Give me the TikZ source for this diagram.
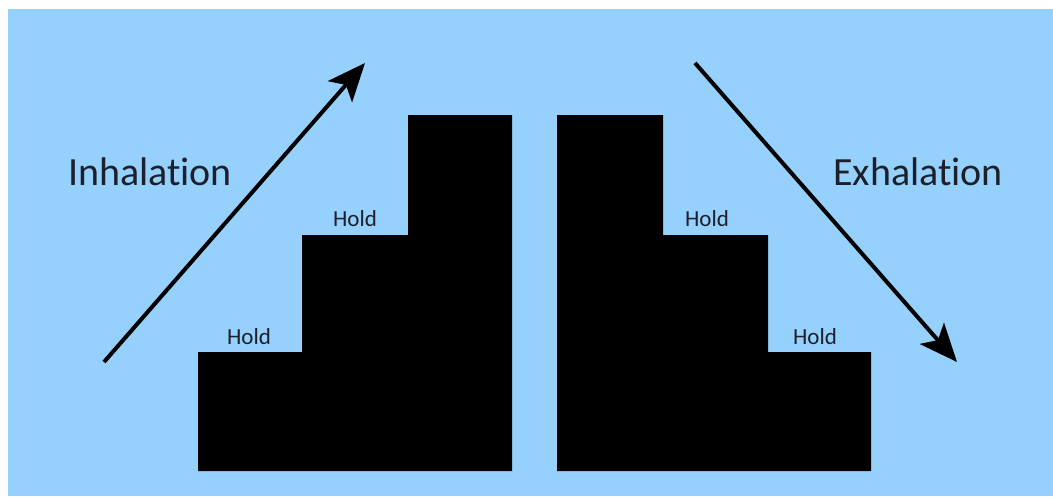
\documentclass[tikz,border=0pt]{standalone}
\usepackage{fontspec}
\setmainfont[RawFeature={-liga;-clig;-calt;-dlig}]{Carlito}
\usepackage{tikz}
\usetikzlibrary{arrows.meta,positioning,calc}

\definecolor{skyblue}{RGB}{150,209,253}
\definecolor{inkgray}{RGB}{28,32,42}

\begin{document}
\begin{tikzpicture}[
        x=1pt, y=-1pt,
        stairfill/.style={fill=black, draw=none},
        bigword/.style={font=\fontsize{40}{44}\selectfont, text=inkgray, inner sep=0pt},
        holdlabel/.style={font=\fontsize{23}{26}\selectfont, text=inkgray, inner sep=0pt},
        breath/.style={line width=4pt, -{Stealth[length=38pt, width=32pt, inset=9pt]}}
    ]

    % Canvas
    \useasboundingbox (0,0) rectangle (1053,496);
    \fill[white] (0,0) rectangle (1053,496);
    \fill[skyblue] (8,9) rectangle (1053,496);

    % Left staircase (rising)
    \fill[stairfill] (198,471) -- (198,352) -- (302,352) -- (302,235) -- (408,235)
        -- (408,115) -- (512,115) -- (512,471) -- cycle;

    % Right staircase (falling)
    \fill[stairfill] (557,471) -- (557,115) -- (663,115) -- (663,235) -- (768,235)
        -- (768,352) -- (871,352) -- (871,471) -- cycle;

    % Labels
    \node[bigword] (inhale) at (150,172) {Inhalation};
    \node[bigword] (exhale) at (918,172) {Exhalation};
    \node[holdlabel] (holdLa) at (249,337) {Hold};
    \node[holdlabel] (holdLb) at (355,219) {Hold};
    \node[holdlabel] (holdRa) at (707,219) {Hold};
    \node[holdlabel] (holdRb) at (815,337) {Hold};

    % Arrows
    \coordinate (inStart) at (104,362);
    \coordinate (inEnd) at (365,63);
    \coordinate (exStart) at (695,63);
    \coordinate (exEnd) at (957,362);
    \draw[breath] (inStart) -- (inEnd);
    \draw[breath] (exStart) -- (exEnd);

\end{tikzpicture}
\end{document}
